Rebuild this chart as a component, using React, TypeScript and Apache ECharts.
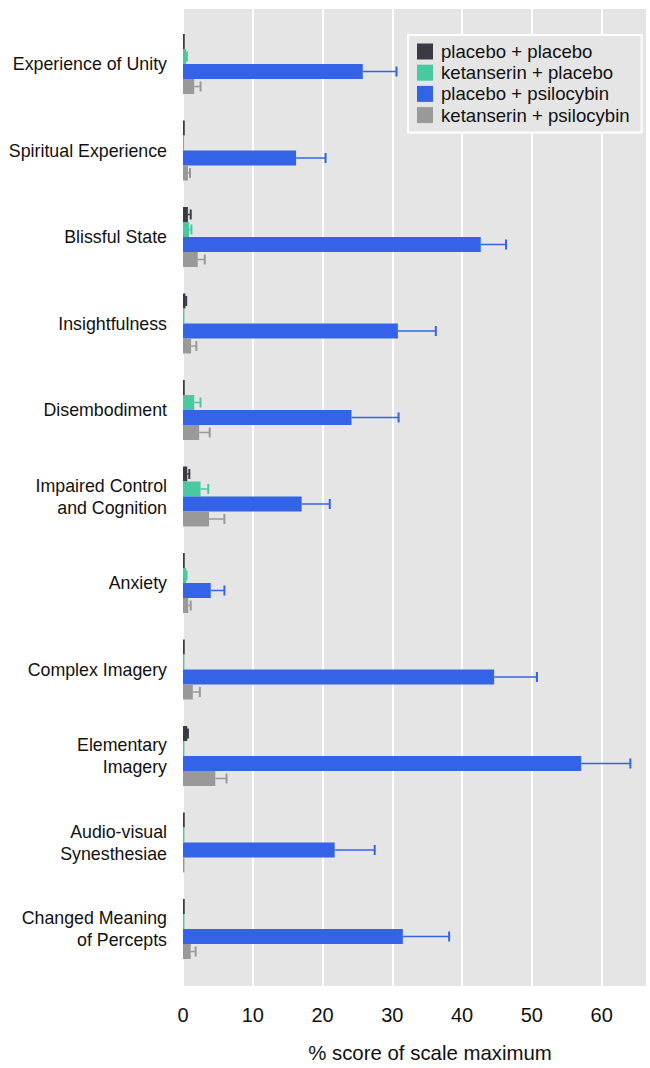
import React, { useEffect, useRef } from "react";
import * as echarts from "echarts";

const categories = [
  "Experience of Unity",
  "Spiritual Experience",
  "Blissful State",
  "Insightfulness",
  "Disembodiment",
  "Impaired Control\nand Cognition",
  "Anxiety",
  "Complex Imagery",
  "Elementary\nImagery",
  "Audio-visual\nSynesthesiae",
  "Changed Meaning\nof Percepts",
];

const seriesNames = [
  "placebo + placebo",
  "ketanserin + placebo",
  "placebo + psilocybin",
  "ketanserin + psilocybin",
];

const placeboPlacebo = [0.25, 0.25, 0.7, 0.35, 0.25, 0.6, 0.25, 0.25, 0.6, 0.25, 0.25];
const placeboPlaceboErr = [0, 0, 0.4, 0.1, 0, 0.3, 0, 0, 0.1, 0, 0];
const ketanserinPlacebo = [0.45, 0.15, 0.85, 0.2, 1.6, 2.5, 0.45, 0.2, 0.2, 0.2, 0.2];
const ketanserinPlaceboErr = [0.1, 0, 0.35, 0, 0.9, 1.1, 0.05, 0, 0, 0, 0];
const placeboPsilocybin = [25.6, 16.1, 42.4, 30.6, 24.0, 16.9, 3.95, 44.3, 56.7, 21.6, 31.3];
const placeboPsilocybinErr = [4.8, 4.2, 3.6, 5.4, 6.7, 4.0, 1.95, 6.1, 7.0, 5.7, 6.6];
const ketanserinPsilocybin = [1.6, 0.7, 2.1, 1.15, 2.3, 3.7, 0.75, 1.4, 4.6, 0.2, 1.1];
const ketanserinPsilocybinErr = [0.9, 0.3, 1.0, 0.75, 1.5, 2.2, 0.35, 1.0, 1.6, 0, 0.7];

const xTicks = [0, 10, 20, 30, 40, 50, 60];

const colors = ["#3a3a45", "#48c9a0", "#3563e8", "#999999"];

const values = [placeboPlacebo, ketanserinPlacebo, placeboPsilocybin, ketanserinPsilocybin];
const errors = [placeboPlaceboErr, ketanserinPlaceboErr, placeboPsilocybinErr, ketanserinPsilocybinErr];

const BAR_W = 15;

export default function App() {
  const ref = useRef<HTMLDivElement>(null);
  useEffect(() => {
    if (!ref.current) return;
    const chart = echarts.init(ref.current, null, { renderer: "svg" });
    const font = "'Liberation Sans', Arial, sans-serif";

    const barSeries = values.map((vals, i) => ({
      name: seriesNames[i],
      type: "bar",
      xAxisIndex: 1,
      yAxisIndex: 1,
      barWidth: BAR_W,
      barGap: "0%",
      itemStyle: { color: colors[i] },
      data: vals,
      z: 3,
    }));

    const errSeries = values.map((vals, i) => ({
      name: seriesNames[i] + " err",
      type: "custom",
      xAxisIndex: 1,
      yAxisIndex: 1,
      z: 4,
      encode: { x: 0, y: 1 },
      data: vals.map((v, k) => [v, k, errors[i][k]]),
      renderItem: (params: any, api: any) => {
        const v = api.value(0);
        const k = api.value(1);
        const e = api.value(2);
        if (!(e > 0)) return null;
        const off = -2 * BAR_W + BAR_W * i + BAR_W / 2;
        const p0 = api.coord([v, k]);
        const p1 = api.coord([v + e, k]);
        const y = p0[1] + off;
        const st = { stroke: colors[i], lineWidth: 1.5 };
        return {
          type: "group",
          children: [
            { type: "line", shape: { x1: p0[0], y1: y, x2: p1[0], y2: y }, style: st },
            { type: "line", shape: { x1: p1[0], y1: y - 5, x2: p1[0], y2: y + 5 }, style: { stroke: colors[i], lineWidth: 2 } },
          ],
        };
      },
    }));

    chart.setOption({
      animation: false,
      textStyle: { fontFamily: font },
      legend: {
        data: seriesNames,
        orient: "vertical",
        left: 408,
        top: 35,
        backgroundColor: "#e5e5e5",
        borderColor: "#ffffff",
        borderWidth: 2,
        borderRadius: 0,
        padding: [7, 12, 8, 9],
        itemWidth: 16,
        itemHeight: 16,
        itemGap: 2.2,
        icon: "rect",
        textStyle: { fontSize: 18.6, color: "#111", fontFamily: font, lineHeight: 18.6, padding: [0, 0, 0, 3] },
      },
      grid: [
        { left: 183, top: 9, width: 467, height: 987, show: true, backgroundColor: "#e5e5e5", borderWidth: 0 },
        { left: 183, top: 20.75, width: 467, height: 951.5, show: false },
      ],
      xAxis: [
        {
          type: "value",
          gridIndex: 0,
          min: 0,
          max: 66.5,
          interval: 10,
          axisLine: { show: false },
          axisTick: { show: false },
          splitLine: { show: true, lineStyle: { color: "#ffffff", width: 2 } },
          axisLabel: {
            fontSize: 20,
            color: "#111",
            margin: 19,
            fontFamily: font,
            formatter: (v: number) => (xTicks.includes(v) ? String(v) : ""),
          },
          name: "% score of scale maximum",
          nameLocation: "middle",
          nameGap: 57,
          nameTextStyle: { fontSize: 20.4, color: "#111", fontFamily: font, padding: [0, 0, 0, 30] },
        },
        {
          type: "value",
          gridIndex: 1,
          min: 0,
          max: 66.5,
          show: false,
          splitLine: { show: false },
        },
      ],
      yAxis: [
        { type: "value", gridIndex: 0, min: 0, max: 1, show: false, splitLine: { show: false } },
        {
          type: "category",
          gridIndex: 1,
          data: categories,
          inverse: true,
          axisLine: { show: false },
          axisTick: { show: false },
          splitLine: { show: false },
          axisLabel: {
            fontSize: 17.8,
            lineHeight: 22,
            color: "#111",
            margin: 16,
            fontFamily: font,
            align: "right",
          },
        },
      ],
      series: [...barSeries, ...errSeries],
    });
    return () => chart.dispose();
  }, []);
  return (
    <div
      ref={ref}
      style={{ position: "fixed", left: 0, top: 0, width: 650, height: 1068, background: "#ffffff" }}
    />
  );
}
